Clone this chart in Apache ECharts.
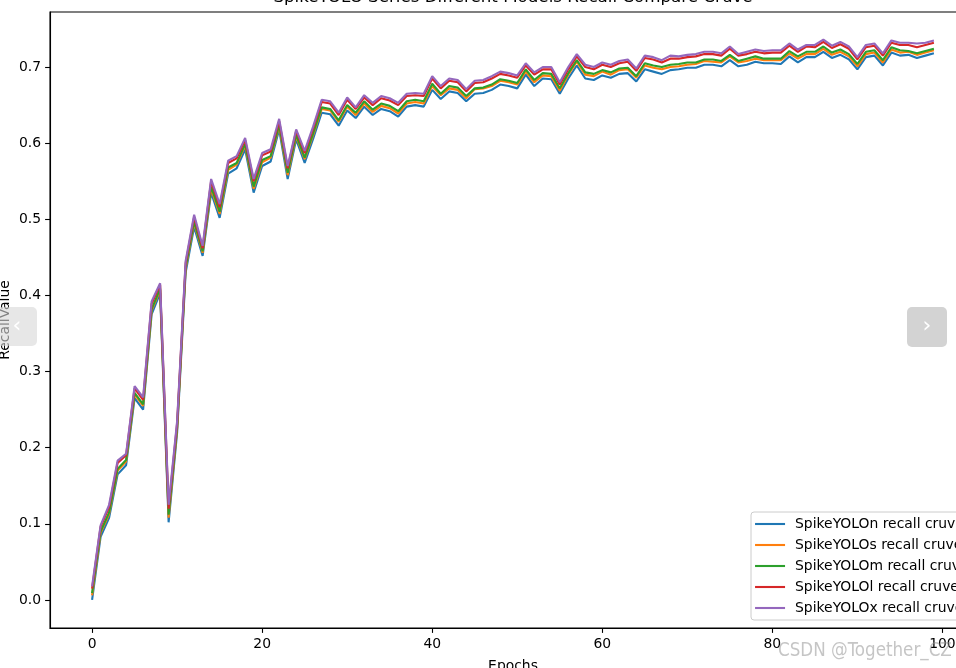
<!DOCTYPE html>
<html>
<head>
<meta charset="utf-8">
<script src="https://cdn.jsdelivr.net/npm/echarts@6/dist/echarts.min.js"></script>
<style>
html,body{margin:0;padding:0;background:#fff;}
#chart{width:956px;height:668px;}
</style>
</head>
<body>
<div id="chart"></div>
<script>
const titleText = 'SpikeYOLO Series Different Models Recall Compare Cruve';
const xName = 'Epochs';
const yName = 'RecallValue';
const seriesNames = ['SpikeYOLOn recall cruve','SpikeYOLOs recall cruve','SpikeYOLOm recall cruve','SpikeYOLOl recall cruve','SpikeYOLOx recall cruve'];
const colors = ['#1f77b4','#ff7f0e','#2ca02c','#d62728','#9467bd'];
const xTicks = [0,20,40,60,80,100];
const yTicks = [0,0.1,0.2,0.3,0.4,0.5,0.6,0.7];
const epochs = Array.from({length:100},(_,i)=>i);

const recallN = [0.000,0.083,0.108,0.165,0.177,0.265,0.250,0.375,0.403,0.102,
0.220,0.430,0.490,0.452,0.535,0.502,0.560,0.567,0.592,0.535,
0.570,0.576,0.618,0.553,0.605,0.574,0.606,0.640,0.638,0.623,
0.643,0.633,0.648,0.637,0.645,0.642,0.635,0.648,0.650,0.648,
0.670,0.658,0.668,0.666,0.655,0.665,0.666,0.670,0.677,0.675,
0.672,0.690,0.675,0.685,0.684,0.665,0.685,0.702,0.685,0.683,
0.689,0.686,0.691,0.692,0.681,0.697,0.694,0.691,0.696,0.697,
0.699,0.699,0.703,0.703,0.701,0.709,0.701,0.703,0.707,0.705,
0.705,0.704,0.714,0.706,0.713,0.713,0.720,0.712,0.716,0.710,
0.697,0.713,0.715,0.702,0.719,0.715,0.716,0.712,0.715,0.718];

const recallS = [0.006,0.088,0.113,0.170,0.182,0.270,0.255,0.380,0.407,0.108,
0.225,0.435,0.495,0.456,0.540,0.507,0.565,0.572,0.597,0.540,
0.575,0.581,0.622,0.558,0.609,0.579,0.611,0.645,0.643,0.628,
0.648,0.637,0.652,0.641,0.649,0.646,0.639,0.652,0.654,0.652,
0.675,0.663,0.672,0.670,0.659,0.671,0.672,0.675,0.682,0.680,
0.677,0.694,0.680,0.689,0.688,0.669,0.690,0.707,0.690,0.688,
0.694,0.690,0.696,0.697,0.686,0.702,0.699,0.697,0.700,0.701,
0.703,0.704,0.708,0.707,0.706,0.714,0.706,0.708,0.711,0.709,
0.709,0.709,0.718,0.711,0.717,0.717,0.724,0.716,0.720,0.714,
0.701,0.717,0.719,0.706,0.723,0.719,0.720,0.716,0.719,0.722];

const recallM = [0.009,0.090,0.115,0.172,0.184,0.272,0.257,0.382,0.409,0.112,
0.227,0.437,0.497,0.458,0.543,0.510,0.568,0.574,0.599,0.543,
0.578,0.583,0.624,0.561,0.611,0.581,0.613,0.647,0.645,0.630,
0.650,0.640,0.655,0.644,0.652,0.649,0.642,0.655,0.657,0.655,
0.678,0.665,0.675,0.673,0.662,0.672,0.673,0.677,0.684,0.682,
0.679,0.697,0.683,0.692,0.691,0.672,0.692,0.709,0.693,0.691,
0.696,0.693,0.698,0.699,0.688,0.705,0.702,0.700,0.703,0.704,
0.706,0.706,0.710,0.710,0.708,0.716,0.708,0.711,0.714,0.711,
0.711,0.711,0.721,0.714,0.720,0.720,0.727,0.719,0.723,0.717,
0.704,0.720,0.722,0.709,0.726,0.722,0.721,0.718,0.721,0.724];

const recallL = [0.015,0.096,0.122,0.180,0.190,0.278,0.263,0.389,0.414,0.120,
0.232,0.442,0.503,0.462,0.550,0.516,0.574,0.580,0.604,0.550,
0.584,0.589,0.629,0.567,0.616,0.587,0.619,0.654,0.652,0.637,
0.657,0.645,0.660,0.650,0.659,0.656,0.650,0.662,0.663,0.662,
0.685,0.672,0.682,0.680,0.668,0.679,0.680,0.685,0.691,0.689,
0.686,0.702,0.690,0.697,0.697,0.677,0.697,0.714,0.700,0.697,
0.703,0.700,0.705,0.707,0.695,0.712,0.710,0.706,0.711,0.711,
0.713,0.714,0.717,0.717,0.715,0.724,0.715,0.717,0.720,0.718,
0.719,0.719,0.728,0.720,0.727,0.726,0.733,0.725,0.730,0.724,
0.710,0.726,0.728,0.715,0.732,0.729,0.729,0.726,0.729,0.732];

const recallX = [0.018,0.098,0.125,0.183,0.192,0.281,0.266,0.392,0.416,0.125,
0.235,0.445,0.506,0.465,0.553,0.520,0.577,0.583,0.607,0.553,
0.587,0.592,0.632,0.570,0.618,0.590,0.622,0.657,0.655,0.640,
0.660,0.647,0.663,0.653,0.662,0.659,0.653,0.665,0.666,0.665,
0.688,0.675,0.685,0.683,0.671,0.682,0.683,0.688,0.694,0.692,
0.689,0.705,0.693,0.700,0.700,0.680,0.700,0.717,0.703,0.700,
0.706,0.703,0.708,0.710,0.698,0.715,0.713,0.709,0.715,0.714,
0.716,0.717,0.720,0.720,0.718,0.727,0.717,0.720,0.723,0.721,
0.722,0.722,0.731,0.723,0.729,0.729,0.736,0.728,0.733,0.727,
0.713,0.729,0.731,0.718,0.735,0.732,0.732,0.731,0.732,0.735];

const allSeries = [recallN, recallS, recallM, recallL, recallX];

const FONT = 'DejaVu Sans';
const chart = echarts.init(document.getElementById('chart'), null, {renderer:'canvas'});

const option = {
  animation: false,
  backgroundColor: '#fff',
  color: colors,
  title: {
    text: titleText,
    left: 513,
    textAlign: 'center',
    top: -11,
    padding: 0,
    textStyle: {fontFamily: FONT, fontSize: 16.7, fontWeight: 'normal', color: '#000'}
  },
  grid: {left: 50, top: 12, width: 926, height: 616, outerBoundsMode: 'none', containLabel: false, show: true, borderColor: '#000', borderWidth: 1.1, backgroundColor: 'transparent'},
  legend: {
    orient: 'vertical',
    left: 751,
    top: 512,
    itemWidth: 30,
    itemHeight: 14,
    itemGap: 7,
    padding: [5, 8, 5, 3],
    backgroundColor: 'rgba(255,255,255,0.85)',
    borderColor: '#cccccc',
    borderWidth: 1,
    borderRadius: 3,
    itemStyle: {opacity: 0},
    lineStyle: {width: 2.1},
    textStyle: {fontFamily: FONT, fontSize: 13.9, color: '#000', padding: [0,0,0,5]},
    data: seriesNames
  },
  xAxis: {
    type: 'value',
    min: -4.95,
    max: 103.95,
    name: xName,
    nameLocation: 'middle',
    nameGap: 31,
    nameMoveOverlap: false,
    nameTextStyle: {fontFamily: FONT, fontSize: 13.9, color: '#000'},
    axisLine: {show: true, onZero: false, lineStyle: {color: '#000', width: 1.1}},
    axisTick: {show: true, length: 4.9, lineStyle: {color: '#000', width: 1.1}, customValues: xTicks},
    axisLabel: {fontFamily: FONT, fontSize: 13.9, color: '#000', margin: 9, customValues: xTicks, formatter: v => String(v)},
    splitLine: {show: false}
  },
  yAxis: {
    type: 'value',
    min: -0.0368,
    max: 0.7723,
    name: yName,
    nameLocation: 'middle',
    nameGap: 38,
    nameRotate: 90,
    nameMoveOverlap: false,
    nameTextStyle: {fontFamily: FONT, fontSize: 13.9, color: '#000'},
    axisLine: {show: true, onZero: false, lineStyle: {color: '#000', width: 1.1}},
    axisTick: {show: true, length: 4.9, lineStyle: {color: '#000', width: 1.1}, customValues: yTicks},
    axisLabel: {fontFamily: FONT, fontSize: 13.9, color: '#000', margin: 9, customValues: yTicks, formatter: v => v.toFixed(1)},
    splitLine: {show: false}
  },
  series: allSeries.map((vals, k) => ({
    name: seriesNames[k],
    type: 'line',
    symbol: 'none',
    showSymbol: false,
    lineStyle: {width: 2.1, color: colors[k]},
    itemStyle: {color: colors[k]},
    data: epochs.map((e, i) => [e, vals[i]])
  })),
  graphic: [
    {type: 'rect', left: -4, top: 307, z: 100, shape: {width: 41, height: 39, r: 5}, style: {fill: 'rgba(215,215,215,0.6)'}},
    {type: 'text', x: 17, y: 326, z: 101, style: {text: '‹', fill: '#fff', fontSize: 22, fontFamily: FONT, align: 'center', verticalAlign: 'middle'}},
    {type: 'rect', left: 907, top: 307, z: 100, shape: {width: 40, height: 40, r: 5}, style: {fill: '#d3d3d3'}},
    {type: 'text', x: 927, y: 326, z: 101, style: {text: '›', fill: '#fff', fontSize: 22, fontFamily: FONT, align: 'center', verticalAlign: 'middle'}},
    {type: 'text', x: 778, y: 651, z: 101, style: {text: 'CSDN @Together_CZ', fill: 'rgba(150,150,150,0.55)', fontSize: 18.6, fontFamily: 'DejaVu Sans Condensed', align: 'left', verticalAlign: 'middle'}}
  ]
};
chart.setOption(option);
</script>
</body>
</html>
